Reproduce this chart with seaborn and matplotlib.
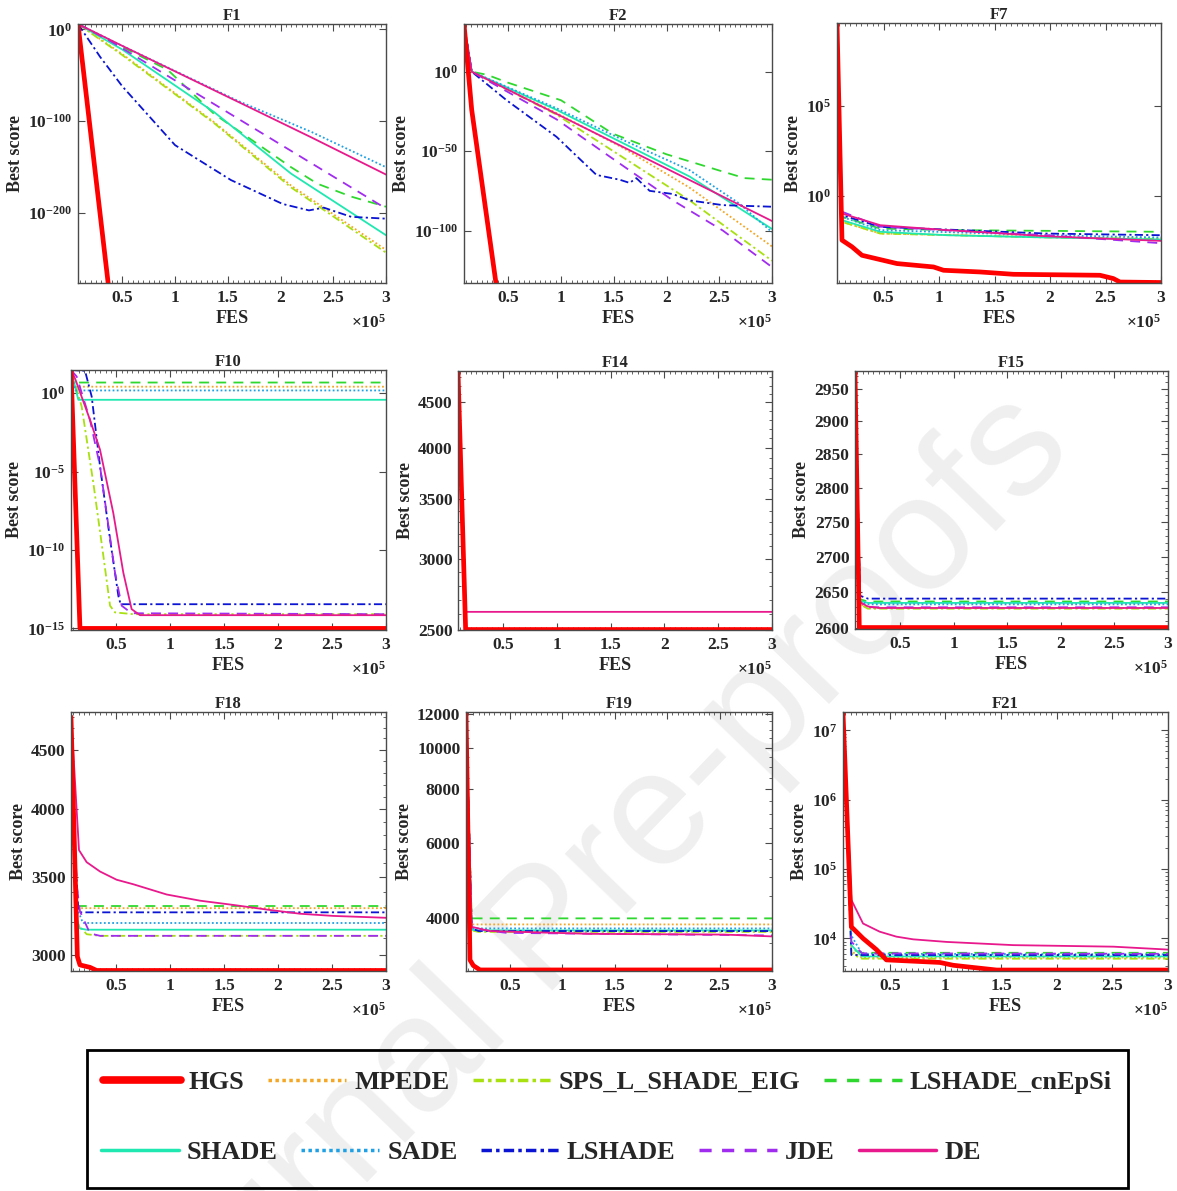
import matplotlib
matplotlib.use('Agg')
import numpy as np
import pandas as pd
import matplotlib.pyplot as plt
import seaborn as sns
from matplotlib.lines import Line2D
from matplotlib.patches import Rectangle
from matplotlib.ticker import FixedLocator, NullLocator, NullFormatter, MultipleLocator, LogLocator

# style first, fonts after (set_style resets font.family)
sns.set_style('ticks')
plt.rcParams['font.family'] = ['Liberation Serif', 'DejaVu Serif']
plt.rcParams['font.weight'] = 'bold'
plt.rcParams['mathtext.fontset'] = 'custom'
plt.rcParams['mathtext.rm'] = 'Liberation Serif:bold'
plt.rcParams['mathtext.it'] = 'Liberation Serif:bold'
plt.rcParams['mathtext.bf'] = 'Liberation Serif:bold'

# algorithms in legend order
ALGS = ['HGS', 'MPEDE', 'SPS_L_SHADE_EIG', 'LSHADE_cnEpSi', 'SHADE', 'SADE', 'LSHADE', 'JDE', 'DE']
COLORS = {'HGS': '#ff0000', 'MPEDE': '#f5a623', 'SPS_L_SHADE_EIG': '#a8e010', 'LSHADE_cnEpSi': '#2fd82f',
          'SHADE': '#1fe8b0', 'SADE': '#1ea0e6', 'LSHADE': '#0a14d2', 'JDE': '#a02cf0', 'DE': '#e8198c'}
DASHES = {'HGS': '', 'MPEDE': (1, 1.3), 'SPS_L_SHADE_EIG': (4.5, 1.8, 1.2, 1.8), 'LSHADE_cnEpSi': (5.5, 4),
          'SHADE': '', 'SADE': (1, 1.3), 'LSHADE': (4.5, 1.8, 1.2, 1.8), 'JDE': (5.5, 4), 'DE': ''}
WIDTHS = {a: 1.3 for a in ALGS}
WIDTHS['HGS'] = 3.4
DRAW_ORDER = ALGS[1:] + ['HGS']

# x values in units of 1e5 FES, y = best score
F1 = {
    'HGS': ([0.08, 0.39], [6e5, 1e-300]),
    'MPEDE': ([0.08, 0.5, 1.37, 2.1, 3.0], [6e5, 1e-27, 1e-101, 1e-170, 1e-240]),
    'SPS_L_SHADE_EIG': ([0.08, 0.5, 1.37, 2.1, 3.0], [6e5, 1e-28, 1e-102, 1e-172, 1e-243]),
    'LSHADE_cnEpSi': ([0.08, 0.39, 0.93, 1.37, 2.1, 2.35, 2.67, 3.0],
                      [6e5, 1e-13, 1e-44, 1e-92, 1e-150, 1e-168, 1e-182, 1e-193]),
    'SHADE': ([0.08, 0.5, 1.37, 2.1, 3.0], [6e5, 1e-22, 1e-90, 1e-157, 1e-224]),
    'SADE': ([0.08, 0.5, 1.6, 2.3, 3.0], [6e5, 1e-18, 1e-78, 1e-112, 1e-150]),
    'LSHADE': ([0.08, 0.29, 0.5, 1.0, 1.53, 2.02, 2.27, 2.41, 2.67, 3.0],
               [6e5, 1e-30, 1e-62, 1e-126, 1e-164, 1e-190, 1e-197, 1e-194, 1e-204, 1e-206]),
    'JDE': ([0.08, 0.39, 3.0], [6e5, 1e-13, 1e-195]),
    'DE': ([0.08, 0.5, 1.6, 2.3, 3.0], [6e5, 1e-18, 1e-79, 1e-118, 1e-158]),
}

F2 = {
    'HGS': ([0.08, 0.153, 0.383, 0.4], [1e30, 1e-24, 1e-133, 1e-141]),
    'MPEDE': ([0.08, 0.153, 0.957, 1.588, 2.219, 3.0], [1e30, 1, 1e-26, 1e-48, 1e-73, 1e-110]),
    'SPS_L_SHADE_EIG': ([0.08, 0.153, 0.957, 1.588, 2.219, 3.0], [1e30, 1, 1e-27, 1e-54, 1e-81, 1e-119]),
    'LSHADE_cnEpSi': ([0.08, 0.153, 0.3, 0.5, 1.0, 1.49, 2.0, 2.49, 2.74, 3.0],
                      [1e30, 1, 1e-2, 1e-7, 1e-18, 1e-39, 1e-52, 1e-62, 1e-67, 1e-68]),
    'SHADE': ([0.08, 0.153, 0.957, 1.588, 2.219, 3.0], [1e30, 1, 1e-24, 1e-45, 1e-66, 1e-99]),
    'SADE': ([0.08, 0.153, 0.957, 1.588, 2.219, 2.69, 3.0], [1e30, 1, 1e-23, 1e-43, 1e-62, 1e-83, 1e-101]),
    'LSHADE': ([0.08, 0.153, 0.484, 0.957, 1.336, 1.556, 1.65, 1.714, 1.84, 2.06, 2.219, 2.534, 3.0],
               [1e30, 1, 1e-18, 1e-41, 1e-65, 1e-68, 1e-70, 1e-67, 1e-75, 1e-77, 1e-81, 1e-84, 1e-85]),
    'JDE': ([0.08, 0.153, 0.957, 1.43, 2.06, 2.534, 3.0], [1e30, 1, 1e-30, 1e-52, 1e-81, 1e-100, 1e-123]),
    'DE': ([0.08, 0.153, 3.0], [1e30, 1, 1e-94]),
}

F7 = {
    'HGS': ([0.08, 0.125, 0.215, 0.305, 0.62, 0.95, 1.04, 1.37, 1.67, 2.45, 2.57, 2.63, 3.0],
            [4e9, 3.4e-3, 1.45e-3, 4.9e-4, 1.7e-4, 1.1e-4, 7.2e-5, 5.8e-5, 4.3e-5, 3.8e-5, 2.5e-5, 1.6e-5, 1.5e-5]),
    'MPEDE': ([0.08, 0.125, 0.47, 1.97, 3.0], [4e9, 0.036, 8e-3, 5e-3, 4.2e-3]),
    'SPS_L_SHADE_EIG': ([0.08, 0.125, 0.47, 1.97, 3.0], [4e9, 0.035, 7.9e-3, 4.8e-3, 4.0e-3]),
    'LSHADE_cnEpSi': ([0.08, 0.125, 0.47, 1.07, 1.97, 3.0], [4e9, 0.067, 0.015, 0.0123, 0.0112, 0.0099]),
    'SHADE': ([0.08, 0.125, 0.47, 1.07, 1.97, 3.0], [4e9, 0.044, 9.9e-3, 6.4e-3, 4.8e-3, 3.7e-3]),
    'SADE': ([0.08, 0.125, 0.47, 1.97, 3.0], [4e9, 0.067, 0.0123, 6.4e-3, 4.8e-3]),
    'LSHADE': ([0.08, 0.125, 0.47, 1.07, 1.97, 3.0], [4e9, 0.083, 0.0186, 0.0132, 7.9e-3, 6.4e-3]),
    'JDE': ([0.08, 0.125, 0.47, 1.07, 1.97, 3.0], [4e9, 0.13, 0.019, 0.012, 6.4e-3, 2.3e-3]),
    'DE': ([0.08, 0.125, 0.47, 1.07, 1.97, 3.0], [4e9, 0.103, 0.023, 0.0123, 5.6e-3, 3.1e-3]),
}

F10 = {
    'HGS': ([0.08, 0.163, 3.0], [30, 1e-15, 1e-15]),
    'MPEDE': ([0.08, 0.12, 3.0], [30, 2.6, 2.6]),
    'SPS_L_SHADE_EIG': ([0.08, 0.117, 0.179, 0.287, 0.38, 0.442, 0.488, 0.658, 3.0],
                        [30, 4.4, 0.14, 1.9e-6, 4.2e-11, 2.8e-14, 1.05e-14, 8.1e-15, 8.1e-15]),
    'LSHADE_cnEpSi': ([0.08, 0.117, 3.0], [30, 4.8, 4.8]),
    'SHADE': ([0.08, 0.148, 3.0], [30, 0.38, 0.38]),
    'SADE': ([0.08, 0.12, 3.0], [30, 1.5, 1.5]),
    'LSHADE': ([0.08, 0.21, 0.272, 0.349, 0.442, 0.519, 0.54, 3.0],
               [30, 27, 0.6, 2.2e-5, 4.8e-10, 1.2e-13, 3.5e-14, 3.5e-14]),
    'JDE': ([0.08, 0.133, 0.256, 0.349, 0.41, 0.488, 0.55, 0.642, 3.0],
            [30, 11.5, 0.02, 2.2e-5, 2.3e-8, 3.6e-12, 2.8e-14, 9.3e-15, 8.1e-15]),
    'DE': ([0.08, 0.117, 0.256, 0.349, 0.472, 0.565, 0.642, 0.72, 3.0],
           [30, 8.9, 0.02, 2.5e-4, 2.3e-8, 3.6e-12, 1.7e-14, 7e-15, 7e-15]),
}

F14 = {
    'HGS': ([0.08, 0.151, 3.0], [4870, 2500, 2500]),
    'MPEDE': ([0.08, 0.151, 3.0], [4870, 2500, 2500]),
    'SPS_L_SHADE_EIG': ([0.08, 0.151, 3.0], [4870, 2500, 2500]),
    'LSHADE_cnEpSi': ([0.08, 0.151, 3.0], [4870, 2500, 2500]),
    'SHADE': ([0.08, 0.151, 3.0], [4870, 2500, 2500]),
    'SADE': ([0.08, 0.151, 3.0], [4870, 2500, 2500]),
    'LSHADE': ([0.08, 0.151, 3.0], [4870, 2500, 2500]),
    'JDE': ([0.08, 0.151, 3.0], [4870, 2500, 2500]),
    'DE': ([0.08, 0.151, 3.0], [4870, 2617, 2617]),
}

F15 = {
    'HGS': ([0.08, 0.12, 3.0], [2975, 2601, 2601]),
    'MPEDE': ([0.08, 0.127, 0.2, 3.0], [2975, 2634, 2628, 2628]),
    'SPS_L_SHADE_EIG': ([0.08, 0.127, 0.2, 3.0], [2975, 2633, 2627, 2627]),
    'LSHADE_cnEpSi': ([0.08, 0.127, 0.2, 3.0], [2975, 2640, 2637, 2637]),
    'SHADE': ([0.08, 0.127, 0.2, 3.0], [2975, 2638, 2635, 2635]),
    'SADE': ([0.08, 0.127, 0.2, 3.0], [2975, 2637, 2633, 2633]),
    'LSHADE': ([0.08, 0.127, 0.2, 3.0], [2975, 2645, 2641, 2641]),
    'JDE': ([0.08, 0.127, 0.2, 3.0], [2975, 2636, 2629, 2629]),
    'DE': ([0.08, 0.127, 0.2, 0.31, 3.0], [2975, 2636, 2630, 2628, 2628]),
}

F18 = {
    'HGS': ([0.08, 0.139, 0.163, 0.256, 0.318, 3.0], [4800, 2990, 2941, 2927, 2909, 2909]),
    'MPEDE': ([0.08, 0.117, 0.139, 3.0], [4800, 3460, 3290, 3290]),
    'SPS_L_SHADE_EIG': ([0.08, 0.127, 0.225, 0.349, 3.0], [4800, 3200, 3125, 3115, 3115]),
    'LSHADE_cnEpSi': ([0.08, 0.117, 0.139, 3.0], [4800, 3480, 3304, 3304]),
    'SHADE': ([0.08, 0.127, 0.163, 0.225, 3.0], [4800, 3230, 3160, 3153, 3153]),
    'SADE': ([0.08, 0.13, 0.19, 3.0], [4800, 3300, 3195, 3195]),
    'LSHADE': ([0.08, 0.117, 0.148, 0.163, 3.0], [4800, 3700, 3280, 3263, 3263]),
    'JDE': ([0.08, 0.127, 0.163, 0.256, 0.349, 3.0], [4800, 3480, 3270, 3130, 3115, 3115]),
    'DE': ([0.08, 0.154, 0.225, 0.349, 0.503, 0.658, 0.967, 1.276, 1.585, 1.894, 2.203, 2.512, 3.0],
           [4840, 3690, 3603, 3537, 3480, 3449, 3380, 3339, 3311, 3281, 3254, 3240, 3228]),
}

F19 = {
    'HGS': ([0.08, 0.118, 0.15, 0.214, 3.0], [12000, 3200, 3105, 3033, 3033]),
    'MPEDE': ([0.08, 0.134, 3.0], [12000, 3872, 3872]),
    'SPS_L_SHADE_EIG': ([0.08, 0.134, 0.2, 3.0], [12000, 3750, 3720, 3720]),
    'LSHADE_cnEpSi': ([0.08, 0.134, 3.0], [12000, 4000, 4000]),
    'SHADE': ([0.08, 0.134, 0.2, 3.0], [12000, 3760, 3750, 3750]),
    'SADE': ([0.08, 0.134, 3.0], [12000, 3790, 3790]),
    'LSHADE': ([0.08, 0.134, 0.2, 3.0], [12000, 3790, 3737, 3737]),
    'JDE': ([0.08, 0.134, 0.469, 3.0], [12000, 3790, 3700, 3650]),
    'DE': ([0.08, 0.134, 0.309, 1.265, 2.54, 3.0], [12000, 3822, 3737, 3681, 3667, 3631]),
}

F21 = {
    'HGS': ([0.08, 0.155, 0.26, 0.38, 0.47, 0.95, 1.07, 1.19, 1.46, 3.0],
            [1.8e7, 1.47e4, 1.0e4, 6.9e3, 4.9e3, 4.5e3, 4.1e3, 3.9e3, 3.5e3, 3.5e3]),
    'MPEDE': ([0.08, 0.155, 0.25, 3.0], [1.8e7, 6.5e3, 5.3e3, 5.3e3]),
    'SPS_L_SHADE_EIG': ([0.08, 0.155, 0.25, 3.0], [1.8e7, 6e3, 5.1e3, 5.1e3]),
    'LSHADE_cnEpSi': ([0.08, 0.155, 0.25, 3.0], [1.8e7, 7e3, 6.2e3, 6.2e3]),
    'SHADE': ([0.08, 0.155, 0.25, 3.0], [1.8e7, 8e3, 5.5e3, 5.5e3]),
    'SADE': ([0.08, 0.155, 0.25, 3.0], [1.8e7, 1.1e4, 6e3, 5.9e3]),
    'LSHADE': ([0.08, 0.155, 3.0], [1.8e7, 5.76e3, 5.76e3]),
    'JDE': ([0.08, 0.155, 0.25, 3.0], [1.8e7, 9e3, 6.1e3, 6.0e3]),
    'DE': ([0.08, 0.155, 0.26, 0.41, 0.56, 0.71, 1.01, 1.61, 2.51, 3.0],
           [1.8e7, 3.6e4, 1.64e4, 1.25e4, 1.06e4, 9.7e3, 8.9e3, 8.0e3, 7.6e3, 6.9e3]),
}

# y ticks per panel
F1_TICKS = ([1, 1e-100, 1e-200], [r'$10^{0}$', r'$10^{-100}$', r'$10^{-200}$'])
F2_TICKS = ([1, 1e-50, 1e-100], [r'$10^{0}$', r'$10^{-50}$', r'$10^{-100}$'])
F7_TICKS = ([1, 1e5], [r'$10^{0}$', r'$10^{5}$'])
F10_TICKS = ([1, 1e-5, 1e-10, 1e-15], [r'$10^{0}$', r'$10^{-5}$', r'$10^{-10}$', r'$10^{-15}$'])
F14_TICKS = ([2500, 3000, 3500, 4000, 4500], ['2500', '3000', '3500', '4000', '4500'])
F15_TICKS = ([2600, 2650, 2700, 2750, 2800, 2850, 2900, 2950],
             ['2600', '2650', '2700', '2750', '2800', '2850', '2900', '2950'])
F18_TICKS = ([3000, 3500, 4000, 4500], ['3000', '3500', '4000', '4500'])
F19_TICKS = ([4000, 6000, 8000, 10000, 12000], ['4000', '6000', '8000', '10000', '12000'])
F21_TICKS = ([1e4, 1e5, 1e6, 1e7], [r'$10^{4}$', r'$10^{5}$', r'$10^{6}$', r'$10^{7}$'])

W, H = 1177, 1191
fig = plt.figure(figsize=(W / 100, H / 100), dpi=100)
fig.patch.set_facecolor('white')

# watermark behind everything
fig.text(0.49, 0.24, 'Journal Pre-proofs', rotation=46, fontsize=118, color='#efefef',
         family='Liberation Sans', weight='normal', ha='center', va='center', zorder=-5)

# (name, data, ticks, ylim, minor ticks, box in pixels left/top/right/bottom)
panels = [
    ('F1', F1, F1_TICKS, (1e-276, 10 ** 5.8), None, (78, 24, 386, 283)),
    ('F2', F2, F2_TICKS, (1e-133, 1e30), None, (464, 24, 772, 283)),
    ('F7', F7, F7_TICKS, (10 ** -4.85, 10 ** 9.6), None, (837, 23, 1161, 283)),
    ('F10', F10, F10_TICKS, (10 ** -15.1, 10 ** 1.48), None, (71, 370, 386, 630)),
    ('F14', F14, F14_TICKS, (2497, 4880), np.arange(2500, 4900, 100), (458, 371, 772, 630)),
    ('F15', F15, F15_TICKS, (2599, 2978), np.arange(2600, 2980, 10), (855, 371, 1168, 629)),
    ('F18', F18, F18_TICKS, (2906, 4847), np.arange(2900, 4900, 100), (71, 712, 386, 971)),
    ('F19', F19, F19_TICKS, (3016, 12100), np.arange(3500, 12500, 500), (466, 712, 772, 971)),
    ('F21', F21, F21_TICKS, (10 ** 3.53, 10 ** 7.265), 'log', (843, 712, 1168, 971)),
]

spine_col = '#4a4a4a'
for name, data, (yt, ylab), ylim, minor, (l, t, r, b) in panels:
    ax = fig.add_axes([l / W, 1 - b / H, (r - l) / W, (b - t) / H])
    ax.patch.set_alpha(0)
    ax.set_yscale('log')
    rows = []
    for alg in ALGS:
        xs, ys = data[alg]
        rows += [(alg, x, y) for x, y in zip(xs, ys)]
    df = pd.DataFrame(rows, columns=['alg', 'FES', 'score'])
    sns.lineplot(data=df, x='FES', y='score', hue='alg', style='alg', size='alg',
                 hue_order=DRAW_ORDER, style_order=DRAW_ORDER, size_order=DRAW_ORDER,
                 palette=COLORS, dashes=DASHES, sizes=WIDTHS, estimator=None, sort=False,
                 legend=False, ax=ax)
    ax.set_xlim(0.08, 3.0)
    ax.set_ylim(*ylim)
    ax.set_xticks([0.5, 1, 1.5, 2, 2.5, 3], ['0.5', '1', '1.5', '2', '2.5', '3'])
    ax.xaxis.set_minor_locator(MultipleLocator(0.05))
    ax.set_yticks(yt, ylab)
    if minor is None:
        ax.yaxis.set_minor_locator(NullLocator())
    elif isinstance(minor, str):
        ax.yaxis.set_minor_locator(LogLocator(base=10, subs=np.arange(2, 10)))
    else:
        ax.yaxis.set_minor_locator(FixedLocator(minor))
    ax.yaxis.set_minor_formatter(NullFormatter())
    ax.tick_params(which='both', direction='in', top=True, right=True, color=spine_col,
                   labelsize=12.5)
    ax.tick_params(axis='x', which='both', pad=5)
    ax.tick_params(axis='y', which='both', pad=4)
    ax.tick_params(which='major', length=5, width=0.8)
    ax.tick_params(which='minor', length=2.5, width=0.6)
    for s in ax.spines.values():
        s.set_color(spine_col)
        s.set_linewidth(1.0)
    ax.set_title(name, fontsize=12, fontweight='bold', pad=3)
    ax.set_xlabel('FES', fontsize=13, fontweight='bold', labelpad=3)
    ax.set_ylabel('Best score', fontsize=13, fontweight='bold', labelpad=3)
    ax.text(1.0, -0.12, r'$\times10^{5}$', transform=ax.transAxes, ha='right', va='top', fontsize=12.5)

# legend in a framed box, two rows
LEG_STYLES = {'HGS': ('-', 5.5), 'MPEDE': ((0, (1, 1)), 2.5), 'SPS_L_SHADE_EIG': ((0, (3, 1.2, 1, 1.2)), 2.5),
              'LSHADE_cnEpSi': ((0, (3.5, 3)), 2.5), 'SHADE': ('-', 2.5), 'SADE': ((0, (1, 1)), 2.5),
              'LSHADE': ((0, (3, 1.2, 1, 1.2)), 2.5), 'JDE': ((0, (3.5, 3)), 2.5), 'DE': ('-', 2.5)}
handles = [Line2D([], [], color=COLORS[a], linestyle=LEG_STYLES[a][0], linewidth=LEG_STYLES[a][1]) for a in ALGS]
leg_kw = dict(frameon=False, loc='center left', handlelength=2.95, handletextpad=0.3,
              columnspacing=0.9, borderpad=0, borderaxespad=0, prop={'weight': 'bold', 'size': 19})
leg1 = fig.legend(handles[:4], ALGS[:4], ncol=4, bbox_to_anchor=(103 / W, 1 - 1082 / H), **leg_kw)
leg2 = fig.legend(handles[4:], ALGS[4:], ncol=5, bbox_to_anchor=(101 / W, 1 - 1152 / H), **leg_kw)
fig.patches.append(Rectangle((87 / W, 1 - 1188 / H), (1128 - 87) / W, (1188 - 1050) / H,
                             transform=fig.transFigure, fill=False, edgecolor='black', linewidth=2))

fig.savefig('out.png', dpi=100, facecolor='white')
